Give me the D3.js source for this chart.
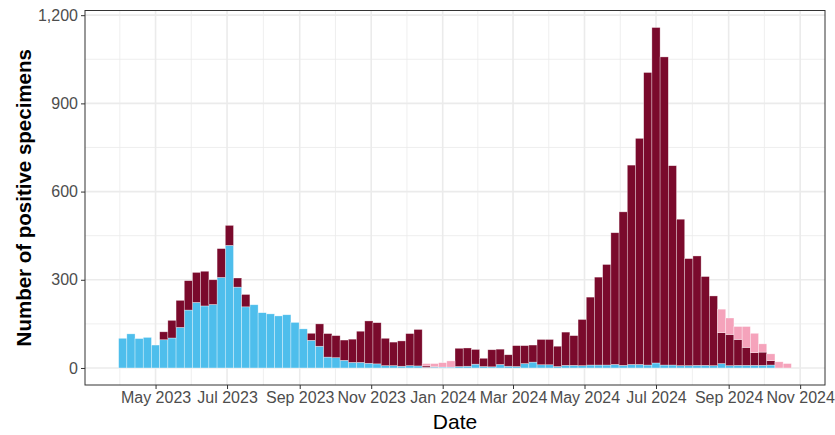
<!DOCTYPE html>
<html>
<head>
<meta charset="utf-8">
<script src="https://cdn.jsdelivr.net/npm/d3@7"></script>
<style>
  html, body { margin: 0; padding: 0; background: #ffffff; }
  svg { display: block; font-family: "Liberation Sans", Arial, Helvetica, sans-serif; }
</style>
</head>
<body>
<svg id="chart" width="835" height="435"></svg>
<script>
// ---- Data (weekly, first week centred on 2023-04-03) ----
const firstWeek = "2023-04-03";
const nWeeks = 82;
const seriesKeys = ["blue", "maroon", "pink"];
const blueValues = [101,116,100,104,78,96,102,138,197,223,
                    211,216,308,417,275,208,215,188,184,177,
                    181,155,133,94,74,37,35,26,19,19,
                    16,14,8,8,6,8,7,2,3,3,
                    3,5,6,13,5,4,12,6,5,15,
                    20,11,11,5,9,9,8,10,10,10,
                    12,9,12,12,10,17,10,10,8,8,
                    9,9,8,15,8,9,9,9,9,10,
                    0,0];
const maroonValues = [0,0,0,0,0,27,60,92,100,102,
                      118,84,98,68,31,42,0,0,0,0,
                      0,0,0,24,76,80,75,69,79,106,
                      144,140,93,80,86,109,124,5,2,0,
                      0,62,62,50,28,58,52,39,71,61,
                      58,86,86,69,113,101,157,231,299,342,
                      448,522,678,769,995,1141,1048,678,498,364,
                      372,302,237,105,106,88,61,43,45,15,
                      0,0];
const pinkValues = [0,0,0,0,0,0,0,0,0,0,
                    0,0,0,0,0,0,0,0,0,0,
                    0,0,0,0,0,0,0,0,0,0,
                    0,0,0,0,0,0,0,8,10,15,
                    21,0,0,0,0,0,0,0,0,0,
                    0,0,0,0,0,0,0,0,0,0,
                    0,0,0,0,0,0,0,0,0,0,
                    0,0,0,80,56,44,71,66,28,23,
                    21,15];
const xTickDates = ["2023-05-01","2023-07-01","2023-09-01","2023-11-01","2024-01-01",
                    "2024-03-01","2024-05-01","2024-07-01","2024-09-01","2024-11-01"];
const yTicks = [0, 300, 600, 900, 1200];
const xTitle = "Date";
const yTitle = "Number of positive specimens";
const colors = { blue: "#4EBEEC", maroon: "#7A0A2C", pink: "#F5A3BB" };

// ---- Build table ----
const parse = d3.utcParse("%Y-%m-%d");
const start = parse(firstWeek);
const rows = d3.range(nWeeks).map(i => ({
  date: d3.utcDay.offset(start, 7 * i),
  blue: blueValues[i], maroon: maroonValues[i], pink: pinkValues[i]
}));
const stacked = d3.stack().keys(seriesKeys)(rows);

// ---- Geometry ----
const panel = { left: 85, right: 825, top: 10.5, bottom: 385 };
const halfWeekMs = 3.5 * 864e5;
const xMin = +rows[0].date - halfWeekMs, xMax = +rows[nWeeks - 1].date + halfWeekMs;
const xPad = (xMax - xMin) * 0.05;
const x = d3.scaleUtc().domain([new Date(xMin - xPad), new Date(xMax + xPad)])
  .range([panel.left, panel.right]);
const maxTotal = d3.max(rows, d => d.blue + d.maroon + d.pink);
const y = d3.scaleLinear().domain([-0.05 * maxTotal, 1.05 * maxTotal])
  .range([panel.bottom, panel.top]);

const svg = d3.select("#chart");

// Grid
const xMajor = xTickDates.map(parse);
const xMinor = [];
const allMajor = [d3.utcMonth.offset(xMajor[0], -2), ...xMajor, d3.utcMonth.offset(xMajor[xMajor.length-1], 2)];
for (let i = 0; i < allMajor.length - 1; i++) {
  xMinor.push(new Date((+allMajor[i] + +allMajor[i+1]) / 2));
}
const yMinor = yTicks.slice(0, -1).map((v, i) => (v + yTicks[i+1]) / 2).concat([-150]);
const grid = svg.append("g");
grid.selectAll(".ym").data(yMinor.filter(v => y(v) > panel.top && y(v) < panel.bottom)).join("line")
  .attr("x1", panel.left).attr("x2", panel.right)
  .attr("y1", d => y(d)).attr("y2", d => y(d))
  .attr("stroke", "#EBEBEB").attr("stroke-width", 0.8);
grid.selectAll(".xm").data(xMinor.filter(d => x(d) > panel.left && x(d) < panel.right)).join("line")
  .attr("y1", panel.top).attr("y2", panel.bottom)
  .attr("x1", d => x(d)).attr("x2", d => x(d))
  .attr("stroke", "#EBEBEB").attr("stroke-width", 0.8);
grid.selectAll(".yM").data(yTicks).join("line")
  .attr("x1", panel.left).attr("x2", panel.right)
  .attr("y1", d => y(d)).attr("y2", d => y(d))
  .attr("stroke", "#EBEBEB").attr("stroke-width", 1.6);
grid.selectAll(".xM").data(xMajor).join("line")
  .attr("y1", panel.top).attr("y2", panel.bottom)
  .attr("x1", d => x(d)).attr("x2", d => x(d))
  .attr("stroke", "#EBEBEB").attr("stroke-width", 1.6);

// Bars
svg.append("g").selectAll("g").data(stacked).join("g")
  .attr("fill", s => colors[s.key])
  .selectAll("rect").data(s => s.filter(d => d[1] > d[0])).join("rect")
  .attr("x", d => x(new Date(+d.data.date - halfWeekMs)))
  .attr("width", d => x(new Date(+d.data.date + halfWeekMs)) - x(new Date(+d.data.date - halfWeekMs)))
  .attr("y", d => y(d[1]))
  .attr("height", d => y(d[0]) - y(d[1]))
  .attr("stroke", "#ffffff").attr("stroke-opacity", 0.55).attr("stroke-width", 0.6);

// Panel border
svg.append("rect")
  .attr("x", panel.left).attr("y", panel.top)
  .attr("width", panel.right - panel.left).attr("height", panel.bottom - panel.top)
  .attr("fill", "none").attr("stroke", "#333333").attr("stroke-width", 1);

// Axes
const fmtMonth = d3.utcFormat("%b %Y");
const xAxis = svg.append("g").attr("transform", `translate(0,${panel.bottom})`)
  .call(d3.axisBottom(x).tickValues(xMajor).tickFormat(fmtMonth).tickSize(4).tickPadding(3));
const yAxis = svg.append("g").attr("transform", `translate(${panel.left},0)`)
  .call(d3.axisLeft(y).tickValues(yTicks).tickFormat(d3.format(",")).tickSize(4).tickPadding(3));
[xAxis, yAxis].forEach(a => {
  a.select(".domain").remove();
  a.selectAll(".tick line").attr("stroke", "#333333").attr("stroke-width", 1);
  a.selectAll(".tick text").attr("fill", "#4D4D4D").style("font-size", "16px")
    .style("font-family", "'Liberation Sans', Arial, sans-serif");
});

// Titles
svg.append("text")
  .attr("x", (panel.left + panel.right) / 2).attr("y", 429)
  .attr("text-anchor", "middle").attr("fill", "#000")
  .style("font-size", "21px").text(xTitle);
svg.append("text")
  .attr("transform", `translate(31,${(panel.top + panel.bottom) / 2}) rotate(-90)`)
  .attr("text-anchor", "middle").attr("fill", "#000")
  .style("font-size", "20.5px").style("font-weight", "bold").text(yTitle);
</script>
</body>
</html>
